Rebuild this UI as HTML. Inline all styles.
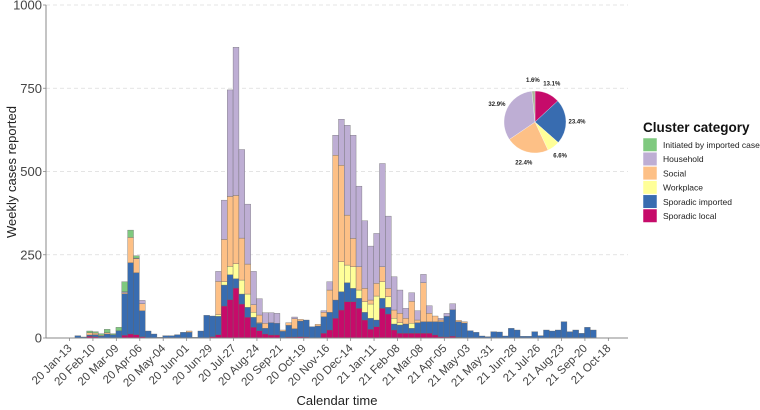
<!DOCTYPE html>
<html><head><meta charset="utf-8"><style>
html,body{margin:0;padding:0;background:#fff;}
svg{display:block;font-family:"Liberation Sans",sans-serif;}
</style></head><body>
<svg id="chart" width="760" height="410" viewBox="0 0 760 410"></svg>
<script>
const categories = ["Sporadic local","Sporadic imported","Workplace","Social","Household","Initiated by imported case"];
const colors = ["#c60b6a","#386cb0","#ffff99","#fdc086","#beaed4","#7fc97f"];
const legendOrder = [5,4,3,2,1,0];
const sporadicLocal = [0,0,0,5,4,0,0,0,0,8, 12,10,4,0,0,0,0,0,0,0, 0,0,0,0,4,10,96,115,150,102, 62,32,22,12,9,9,0,3,3,4, 3,0,0,14,24,59,84,109,109,89, 54,26,34,89,72,24,14,14,14,14, 14,14,9,4,3,5,2,0,0,0, 0,0,0,0,0,0,0,0,0,0, 0,0,0,0,0,0,0,0,0,0];
const sporadicImported = [0,7,3,4,6,6,12,10,22,125, 214,186,78,21,12,2,7,7,10,17, 17,2,21,68,62,55,63,75,28,30, 30,30,22,17,37,35,20,35,25,47, 51,34,36,50,53,55,55,57,40,30, 23,33,20,30,20,18,25,28,15,32, 35,35,40,45,62,80,47,45,22,17, 6,4,19,18,6,29,24,5,5,19, 7,24,21,24,49,19,24,14,32,24];
const workplace = [0,0,0,0,0,0,0,0,0,0, 0,0,0,0,0,0,0,0,0,0, 0,0,0,0,0,5,10,25,45,42, 40,15,2,0,0,0,0,0,0,0, 0,0,0,0,0,0,90,53,65,25, 32,43,72,50,32,17,7,0,15,0, 0,0,0,0,0,0,0,0,0,0, 0,0,0,0,0,0,0,0,0,0, 0,0,0,0,0,0,0,0,0,0];
const social = [0,0,0,7,5,2,4,0,0,3, 76,42,21,0,0,0,0,0,0,0, 4,0,0,0,0,100,127,210,205,126, 90,23,23,15,0,0,4,8,30,5, 0,0,5,13,67,435,290,150,85,70, 40,12,38,45,25,25,28,17,66,8, 117,25,17,5,0,0,4,4,0,0, 0,0,0,0,0,0,0,0,0,0, 0,0,0,0,0,0,0,0,0,0];
const household = [0,0,0,0,0,0,0,0,0,3, 0,2,10,0,0,0,0,0,0,0, 0,0,0,0,0,30,118,320,445,266, 180,100,49,32,30,30,0,0,5,0, 0,0,0,5,25,60,138,270,310,242, 203,162,150,310,217,100,70,30,26,28, 25,23,0,5,9,18,0,0,0,0, 0,0,0,0,0,0,0,0,0,0, 0,0,0,0,0,0,0,0,0,0];
const initiatedImported = [0,0,0,5,4,5,10,3,10,30, 22,7,0,0,0,0,0,0,0,0, 0,0,0,0,0,0,0,0,0,0, 0,0,0,0,0,0,0,0,0,0, 0,0,0,0,0,0,0,0,0,0, 0,0,0,0,0,0,0,0,0,0, 0,0,0,0,0,0,0,0,0,0, 0,0,0,0,0,0,0,0,0,0, 0,0,0,0,0,0,0,0,0,0];
const series = [sporadicLocal,sporadicImported,workplace,social,household,initiatedImported];
const yTicks = [0,250,500,750,1000];
const xTickLabels = ["20 Jan-13","20 Feb-10","20 Mar-09","20 Apr-06","20 May-04","20 Jun-01","20 Jun-29","20 Jul-27","20 Aug-24","20 Sep-21","20 Oct-19","20 Nov-16","20 Dec-14","21 Jan-11","21 Feb-08","21 Mar-08","21 Apr-05","21 May-03","21 May-31","21 Jun-28","21 Jul-26","21 Aug-23","21 Sep-20","21 Oct-18"];
const xTickWeeks = [0,4,8,12,16,20,24,28,32,36,40,44,48,52,56,60,64,68,72,76,80,84,88,92];
const pieValues = [13.1,23.4,6.6,22.4,32.9,1.6];
const pieLabels = ["13.1%","23.4%","6.6%","22.4%","32.9%","1.6%"];

const NS = "http://www.w3.org/2000/svg";
const svg = document.getElementById("chart");
const X0 = 69.5, WK = 5.857, Y0 = 338, YMAX = 1000, YTOP = 5, AXL = 46, AXR = 628;
function xScale(w){ return X0 + WK*w; }
function yScale(v){ return Y0 - v/YMAX*(Y0-YTOP); }
function mk(tag, attrs, parent){ const e=document.createElementNS(NS,tag); for(const k in attrs) e.setAttribute(k,attrs[k]); (parent||svg).appendChild(e); return e; }

// grid + y axis
const gGrid = mk("g",{});


yTicks.forEach(t=>{
  const y=yScale(t);
  if(t>0){ const l=mk("line",{x1:AXL,x2:AXR,y1:y,y2:y,stroke:"#dcdcdc","stroke-width":0.8,"stroke-dasharray":"4,3"},gGrid);
      }
  const tk=mk("line",{x1:AXL-3,x2:AXL,y1:y,y2:y,stroke:"#888","stroke-width":0.8});
   
  const tx=mk("text",{x:AXL-4,y:y+4.5,"text-anchor":"end","font-size":13,fill:"#444"});
  tx.textContent=t;
   
});

// bars
const gBars = mk("g",{});


const nWeeks = sporadicLocal.length;
for(let w=0; w<nWeeks; w++){
  let cum=0;
  const cx = xScale(w)+2.5;
  for(let s=0; s<series.length; s++){
    const v=series[s][w];
    if(!v) continue;
    const y1=yScale(cum), y2=yScale(cum+v);
    const r=mk("rect",{x:cx-WK/2,y:y2,width:WK,height:Math.max(y1-y2,0.3),fill:colors[s],stroke:"#666","stroke-width":0.35},gBars);
    
    
    cum+=v;
  }
}

// axes lines
const ya=mk("line",{x1:AXL,x2:AXL,y1:YTOP,y2:Y0,stroke:"#888","stroke-width":1});
 
const xa=mk("line",{x1:AXL,x2:AXR,y1:Y0,y2:Y0,stroke:"#888","stroke-width":1});
 

// x ticks
xTickLabels.forEach((lab,i)=>{
  const x=xScale(xTickWeeks[i]);
  const tk=mk("line",{x1:x,x2:x,y1:Y0,y2:Y0+3,stroke:"#888","stroke-width":0.8});
   
  const tx=mk("text",{x:x+3,y:Y0+11,"text-anchor":"end","font-size":11.5,fill:"#444",transform:`rotate(-45 ${x+3} ${Y0+11})`});
  tx.textContent=lab;
   
});

// axis titles
const yt=mk("text",{x:0,y:0,"text-anchor":"middle","font-size":13,fill:"#222",transform:"translate(16,172) rotate(-90)"});
yt.textContent="Weekly  cases  reported";
 
const xt=mk("text",{x:337,y:405,"text-anchor":"middle","font-size":13,fill:"#222"});
xt.textContent="Calendar time";
 

// pie
const gPie=mk("g",{});


const PCX=535, PCY=122, PR=31;
const tot=pieValues.reduce((a,b)=>a+b,0);
let ang=0;
pieValues.forEach((v,i)=>{
  const a0=ang/tot*2*Math.PI, a1=(ang+v)/tot*2*Math.PI; ang+=v;
  const p0=[PCX+PR*Math.sin(a0),PCY-PR*Math.cos(a0)], p1=[PCX+PR*Math.sin(a1),PCY-PR*Math.cos(a1)];
  const large=(a1-a0)>Math.PI?1:0;
  const p=mk("path",{d:`M${PCX},${PCY}L${p0[0]},${p0[1]}A${PR},${PR} 0 ${large} 1 ${p1[0]},${p1[1]}Z`,fill:i===5?"#a9b59a":colors[i],stroke:"#fff","stroke-width":0.3},gPie);
   
  const am=(a0+a1)/2, lr=PR+11;
  const t=mk("text",{x:PCX+lr*Math.sin(am),y:PCY-lr*Math.cos(am)+2,"text-anchor":"middle","font-size":6,"font-weight":"bold",fill:"#222"},gPie);
  t.textContent=pieLabels[i];
   
});

// legend
const gLeg=mk("g",{});


const lt=mk("text",{x:643,y:132,"font-size":13.5,"font-weight":"bold",fill:"#111"},gLeg);
lt.textContent="Cluster category";
 
legendOrder.forEach((s,k)=>{
  const y=138+k*14.2;
  const r=mk("rect",{x:643,y:y,width:14,height:13.5,fill:colors[s],stroke:"#fff","stroke-width":0.5},gLeg);
   
  const t=mk("text",{x:663,y:y+10,"font-size":8.5,fill:"#222"},gLeg);
  t.textContent=categories[s];
   
});
</script>
</body></html>
